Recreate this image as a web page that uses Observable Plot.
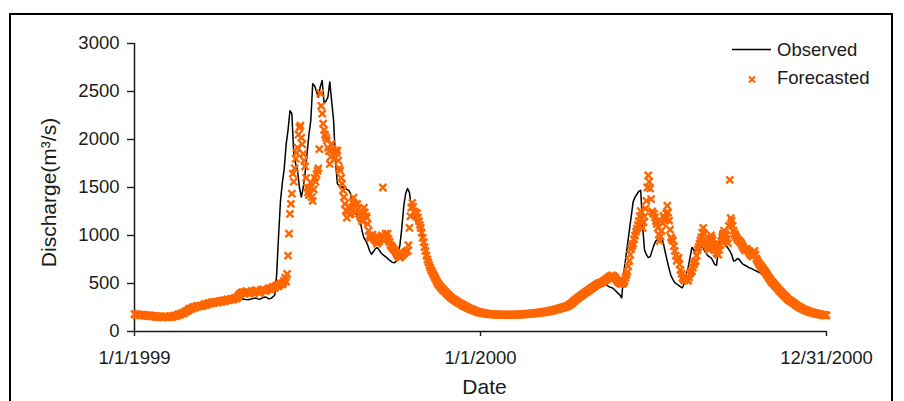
<!DOCTYPE html>
<html><head><meta charset="utf-8">
<script src="https://cdn.jsdelivr.net/npm/d3@7"></script>
<script src="https://cdn.jsdelivr.net/npm/@observablehq/plot@0.6"></script>
<style>
html,body{margin:0;padding:0;background:#fff;width:904px;height:401px;overflow:hidden;}
#wrap{position:relative;width:904px;height:401px;font-family:"Liberation Sans",Arial,sans-serif;}
#chart{position:absolute;left:0;top:0;}
#border{position:absolute;left:9px;top:13px;width:884px;height:430px;border:2px solid #000;box-sizing:border-box;pointer-events:none;}
#legend{position:absolute;left:0;top:0;pointer-events:none;}
</style></head>
<body><div id="wrap"><div id="chart"></div><div id="border"></div><svg id="legend" width="904" height="401"></svg></div>
<script>
// Discharge from 1/1/1999: observed read every 2 days, forecasted read daily
const startDate = "1999-01-01";
const obsStepDays = 2;
const fcStepDays = 1;
const observed = [
178,176,174,172,170,168,166,164,162,160,
158,157,156,155,155,154,154,155,155,156,
158,162,168,175,182,188,194,205,218,230,
240,248,255,258,262,266,270,275,280,285,
290,295,298,300,305,308,310,315,318,322,
325,328,330,333,335,338,340,338,335,332,
330,335,340,345,350,340,335,345,355,360,
350,340,345,360,380,600,1000,1360,1550,1700,
1950,2100,2300,2270,1850,1750,1675,1500,1400,1500,
1650,1850,2050,2200,2580,2560,2500,2440,2550,2615,
2380,2400,2440,2600,2400,2200,1780,1540,1520,1510,
1500,1490,1480,1470,1435,1300,1255,1220,1180,1155,
1050,975,945,900,840,805,830,860,875,850,
820,800,785,770,750,735,720,715,730,805,
900,1080,1300,1435,1490,1450,1300,1255,1180,1120,
1100,1080,990,945,850,760,680,630,590,560,
520,495,470,450,430,405,380,360,345,330,
315,300,290,280,268,258,248,238,228,220,
212,205,198,195,190,186,183,180,178,176,
175,174,173,172,171,170,170,170,170,171,
172,173,175,176,178,180,182,184,186,188,
190,192,195,198,200,203,206,209,212,215,
218,224,230,236,242,248,254,262,272,290,
305,320,335,345,360,372,385,395,405,420,
430,440,450,455,445,460,470,480,490,485,
470,460,455,440,420,400,380,350,600,750,
900,1050,1200,1350,1400,1430,1460,1470,1100,850,
800,770,780,840,900,945,960,970,980,915,
820,735,650,580,540,510,495,480,465,455,
500,600,665,770,875,850,810,790,850,890,
870,830,800,780,770,740,700,690,850,1050,
945,920,900,870,840,800,735,740,760,750,
720,700,690,680,665,660,650,640,630,620,
610,595,580,560,540,520,500,480,460,440,
420,400,385,370,355,340,325,312,300,288,
276,265,255,245,235,226,218,210,203,196,
190,185,180,176,172,168
];
const forecasted = [
182,176,172,175,178,172,168,171,176,170,165,168,170,166,162,165,168,162,158,160,
162,157,152,155,160,154,150,153,158,152,150,154,156,154,152,149,150,155,158,154,
152,160,165,162,160,170,178,175,175,185,192,188,190,200,210,212,215,228,238,236,
235,246,255,250,250,260,265,262,262,268,270,266,268,278,285,280,278,288,295,292,
290,298,305,300,298,305,310,305,302,312,318,312,310,318,325,320,318,328,335,330,
328,335,340,336,332,342,350,346,345,362,380,388,395,402,410,404,400,412,420,412,
405,400,395,410,420,414,410,422,430,422,415,408,400,415,425,432,440,428,420,428,
435,444,450,444,440,455,465,458,455,470,480,474,470,488,500,494,490,510,530,560,
520,600,790,1020,1225,1330,1435,1645,1560,1700,1800,1860,1915,2050,2125,2145,2020,1950,1850,1780,
1720,1600,1500,1450,1420,1500,1550,1400,1360,1480,1600,1560,1640,1675,1700,1900,2480,2350,2270,2165,
2100,2050,2020,1990,1915,1880,1745,1820,1955,1900,1850,1800,1885,1860,1885,1780,1700,1675,1600,1540,
1470,1400,1330,1260,1185,1250,1300,1220,1225,1280,1350,1395,1330,1300,1250,1330,1280,1225,1200,1180,
1150,1230,1290,1240,1200,1185,1120,1050,1000,975,990,1010,980,960,950,940,915,930,940,960,
980,1000,1500,945,990,1020,980,1020,960,930,900,890,875,860,850,840,820,800,790,780,
770,780,790,800,810,820,830,835,840,900,1080,1200,1290,1340,1300,1250,1240,1225,1230,1190,
1150,1110,1080,1030,975,930,880,840,790,750,720,690,665,640,620,600,580,560,540,520,
500,488,475,462,450,440,430,420,410,400,390,380,370,360,352,345,338,332,325,318,
310,304,298,292,288,282,276,270,266,260,256,250,246,240,236,232,228,224,220,216,
212,208,205,202,200,198,195,193,192,190,188,186,185,184,182,181,180,179,178,178,
178,177,176,177,176,175,175,174,174,176,175,174,173,175,174,176,175,173,174,175,
176,174,175,177,177,176,178,179,177,178,180,179,181,182,183,184,185,184,186,187,
188,189,190,191,192,194,195,196,197,199,200,202,203,205,206,208,210,212,214,216,
218,220,222,225,228,230,232,235,238,241,244,247,250,253,256,259,262,266,272,278,
285,292,300,310,318,326,335,342,350,358,365,372,380,386,395,400,410,415,420,428,
435,442,450,458,462,470,478,484,490,496,500,505,510,512,518,525,530,540,545,550,
560,566,575,580,585,578,570,560,545,530,520,510,505,498,495,500,510,530,560,590,
620,680,735,800,860,890,915,960,1000,1040,1070,1110,1150,1200,1255,1180,1080,1140,1200,1280,
1360,1500,1625,1560,1490,1380,1250,1230,1225,1190,1150,1120,1080,1010,945,990,1050,1130,1205,1180,
1155,1230,1310,1240,1155,1060,980,960,945,890,840,790,735,750,770,700,640,600,560,545,
530,540,550,540,530,565,600,615,630,665,700,720,735,790,850,880,915,950,980,1030,
1080,1020,960,930,900,875,850,920,1000,975,950,910,880,850,820,810,800,850,900,940,
980,1010,1050,1020,1000,960,920,1100,1580,1180,1155,1100,1050,1020,1000,980,960,950,945,930,
920,900,880,860,845,855,860,845,830,815,800,790,780,810,840,800,760,740,720,705,
690,678,665,652,640,625,610,595,580,565,550,535,520,510,500,488,475,465,455,442,
430,420,410,400,390,380,370,360,350,340,330,325,320,312,305,298,290,282,275,268,
262,256,250,245,240,235,230,226,222,218,214,210,206,203,200,198,195,192,190,188,
185,182,180,178,176,174,172,171,170,169,168
];
const xTickDates = ["1999-01-01", "2000-01-01", "2000-12-31"];
const xTickLabels = ["1/1/1999", "1/1/2000", "12/31/2000"];
const yTicks = [0, 500, 1000, 1500, 2000, 2500, 3000];
const seriesNames = ["Observed", "Forecasted"];
const yTitle = "Discharge(m³/s)";
const xTitle = "Date";

const DAY = 86400000;
const t0 = new Date(startDate);
const toRows = (arr, step) => arr.map((v, i) => ({date: new Date(+t0 + i * step * DAY), value: v}));
const obsRows = toRows(observed, obsStepDays);
const fcRows = toRows(forecasted, fcStepDays);
const tickDates = xTickDates.map(d => new Date(d));
const ORANGE = "#FF6600";

const chart = Plot.plot({
  width: 904, height: 401,
  marginLeft: 134, marginRight: 78, marginTop: 43, marginBottom: 70,
  style: {fontFamily: "'Liberation Sans', Arial, sans-serif", fontSize: "18.5px", color: "#1a1a1a", background: "transparent", overflow: "visible"},
  x: {type: "utc", domain: [tickDates[0], tickDates[2]]},
  y: {domain: [0, 3000]},
  marks: [
    Plot.axisY({ticks: yTicks, tickFormat: d => String(d), tickSize: 7, tickPadding: 8, label: null, strokeWidth: 1.4}),
    Plot.axisX({ticks: tickDates, tickFormat: (d, i) => xTickLabels[i], tickSize: 5, tickPadding: 14, label: null, strokeWidth: 1.4}),
    Plot.ruleY([0], {stroke: "#1a1a1a", strokeWidth: 1.5}),
    Plot.ruleX([tickDates[0]], {stroke: "#1a1a1a", strokeWidth: 1.5}),
    Plot.text([yTitle], {frameAnchor: "left", rotate: -90, dx: -85.5, dy: 5, fontSize: 21, lineAnchor: "middle", textAnchor: "middle", fill: "#1a1a1a"}),
    Plot.text([xTitle], {frameAnchor: "bottom", dx: 4, dy: 55.5, fontSize: 21, lineAnchor: "middle", fill: "#1a1a1a"}),
    Plot.line(obsRows, {x: "date", y: "value", stroke: "#000", strokeWidth: 1.5}),
    Plot.dot(fcRows, {x: "date", y: "value", symbol: "times", r: 3.3, stroke: ORANGE, strokeWidth: 2.4, fill: "none"})
  ]
});
document.getElementById("chart").appendChild(chart);

// legend
const lg = d3.select("#legend");
lg.append("line").attr("x1", 732).attr("x2", 771).attr("y1", 49.5).attr("y2", 49.5).attr("stroke", "#000").attr("stroke-width", 1.3);
lg.append("text").attr("x", 777).attr("y", 55.8).attr("font-size", 18.5).attr("fill", "#1a1a1a").text(seriesNames[0]);
lg.append("path").attr("d", "M749,76.5L755,82.5M755,76.5L749,82.5").attr("stroke", ORANGE).attr("stroke-width", 2.2).attr("fill", "none");
lg.append("text").attr("x", 777).attr("y", 84.3).attr("font-size", 18.5).attr("fill", "#1a1a1a").text(seriesNames[1]);
</script>
</body></html>
